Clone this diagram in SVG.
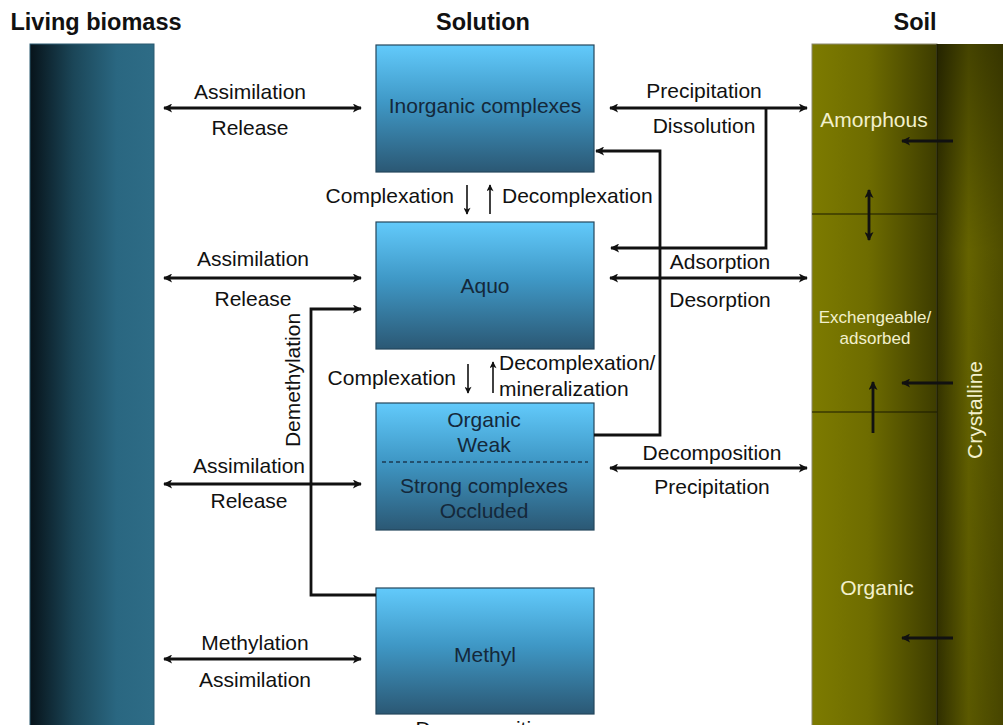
<svg xmlns="http://www.w3.org/2000/svg" width="1003" height="725" viewBox="0 0 1003 725">
<style>
text{font-family:"Liberation Sans",Arial,sans-serif;}
.title{font-size:23.5px;font-weight:bold;fill:#111;text-anchor:middle;}
.lbl{font-size:21px;fill:#111;text-anchor:middle;}
.box{font-size:21px;fill:#14283a;text-anchor:middle;}
.soilt{font-size:21px;fill:#f2f0cc;text-anchor:middle;}
.line{fill:none;stroke:#111;stroke-width:2.8;}
.thin{fill:none;stroke:#111;stroke-width:1.6;}
.sbox{stroke:#24465c;stroke-width:1.2;fill:url(#gBox);}
</style>
<defs>
<linearGradient id="gBio" x1="0" y1="0" x2="1" y2="0">
<stop offset="0" stop-color="#07131a"/>
<stop offset="0.35" stop-color="#1b4658"/>
<stop offset="0.7" stop-color="#2a6781"/>
<stop offset="1" stop-color="#2e6c86"/>
</linearGradient>
<linearGradient id="gBox" x1="0" y1="0" x2="0" y2="1">
<stop offset="0" stop-color="#62cafb"/>
<stop offset="0.45" stop-color="#3f98c6"/>
<stop offset="1" stop-color="#2b5874"/>
</linearGradient>
<linearGradient id="gSoilL" x1="0" y1="0" x2="1" y2="0">
<stop offset="0" stop-color="#7d7b00"/>
<stop offset="0.45" stop-color="#6e6c00"/>
<stop offset="1" stop-color="#3d3c00"/>
</linearGradient>
<linearGradient id="gSoilR" x1="0" y1="0" x2="1" y2="0">
<stop offset="0" stop-color="#383700"/>
<stop offset="0.45" stop-color="#6a6800"/>
<stop offset="1" stop-color="#504e00"/>
</linearGradient>
<linearGradient id="gShade" x1="0" y1="0" x2="0" y2="1">
<stop offset="0" stop-color="#000" stop-opacity="0.35"/>
<stop offset="0.3" stop-color="#000" stop-opacity="0.05"/>
<stop offset="1" stop-color="#000" stop-opacity="0.15"/>
</linearGradient>
<marker id="ah" viewBox="0 0 10 10" refX="9" refY="5" markerWidth="11" markerHeight="9" markerUnits="userSpaceOnUse" orient="auto-start-reverse">
<path d="M0,0 L10,5 L0,10 L2.5,5 z" fill="#111"/>
</marker>
<marker id="ahs" viewBox="0 0 10 10" refX="9" refY="5" markerWidth="8" markerHeight="7" markerUnits="userSpaceOnUse" orient="auto-start-reverse">
<path d="M0,0 L10,5 L0,10 L2.5,5 z" fill="#111"/>
</marker>
</defs>

<g id="titles">
<text class="title" x="96" y="30">Living biomass</text>
<text class="title" x="483" y="30">Solution</text>
<text class="title" x="915" y="30">Soil</text>
</g>

<g id="living-biomass">
<rect x="30" y="44" width="124" height="690" fill="url(#gBio)" stroke="#2a5a70" stroke-width="1"/>
</g>

<g id="soil">
<rect x="812" y="44" width="125" height="690" fill="url(#gSoilL)" stroke="#8c8a70" stroke-width="1"/>
<rect x="937" y="44" width="70" height="690" fill="url(#gSoilR)"/>
<rect x="937" y="44" width="70" height="690" fill="url(#gShade)"/>
<line x1="937" y1="44" x2="937" y2="725" stroke="#1a1a00" stroke-width="1.2"/>
<line x1="812" y1="214" x2="937" y2="214" stroke="#1a1a00" stroke-width="1.2"/>
<line x1="812" y1="412" x2="937" y2="412" stroke="#1a1a00" stroke-width="1.2"/>
</g>
<g id="soil-amorphous"><text class="soilt" x="874" y="127">Amorphous</text></g>
<g id="soil-exchangeable"><text class="soilt" style="font-size:17px" x="875" y="323">Exchengeable/</text><text class="soilt" style="font-size:17px" x="875" y="344">adsorbed</text></g>
<g id="soil-organic"><text class="soilt" x="877" y="595">Organic</text></g>
<g id="soil-crystalline"><text class="soilt" transform="translate(982,410) rotate(-90)" x="0" y="0">Crystalline</text></g>

<g id="inorganic-complexes">
<rect class="sbox" x="376" y="45" width="218" height="127"/>
<text class="box" x="485" y="113">Inorganic complexes</text>
</g>
<g id="aquo">
<rect class="sbox" x="376" y="222" width="218" height="127"/>
<text class="box" x="485" y="293">Aquo</text>
</g>
<g id="organic">
<rect class="sbox" x="376" y="403" width="218" height="127"/>
<text class="box" x="484" y="427">Organic</text>
<text class="box" x="484" y="452">Weak</text>
<line x1="382" y1="462" x2="588" y2="462" stroke="#1d3a52" stroke-width="1.4" stroke-dasharray="4,3"/>
<text class="box" x="484" y="493">Strong complexes</text>
<text class="box" x="484" y="518">Occluded</text>
</g>
<g id="methyl">
<rect class="sbox" x="376" y="588" width="218" height="126"/>
<text class="box" x="485" y="662">Methyl</text>
</g>

<g id="connectors">
<line class="line" x1="164" y1="108" x2="361" y2="108" marker-start="url(#ah)" marker-end="url(#ah)"/>
<line class="line" x1="164" y1="278" x2="361" y2="278" marker-start="url(#ah)" marker-end="url(#ah)"/>
<line class="line" x1="164" y1="484" x2="361" y2="484" marker-start="url(#ah)" marker-end="url(#ah)"/>
<line class="line" x1="164" y1="659" x2="361" y2="659" marker-start="url(#ah)" marker-end="url(#ah)"/>

<line class="line" x1="610" y1="108" x2="807" y2="108" marker-start="url(#ah)" marker-end="url(#ah)"/>
<path class="line" d="M766,108 V248 H611" marker-end="url(#ah)"/>
<line class="line" x1="610" y1="278" x2="807" y2="278" marker-start="url(#ah)" marker-end="url(#ah)"/>
<line class="line" x1="610" y1="468" x2="807" y2="468" marker-start="url(#ah)" marker-end="url(#ah)"/>
<path class="line" d="M594,435 H660 V151 H596" marker-end="url(#ah)"/>
<path class="line" d="M376,595 H311 V309 H361" marker-end="url(#ah)"/>

<line class="thin" x1="467" y1="185" x2="467" y2="214" marker-end="url(#ahs)"/>
<line class="thin" x1="490" y1="214" x2="490" y2="185" marker-end="url(#ahs)"/>
<line class="thin" x1="468" y1="364" x2="468" y2="393" marker-end="url(#ahs)"/>
<line class="thin" x1="493" y1="393" x2="493" y2="362" marker-end="url(#ahs)"/>

<line class="line" x1="869" y1="190" x2="869" y2="240" marker-start="url(#ah)" marker-end="url(#ah)"/>
<line class="line" x1="873" y1="433" x2="873" y2="382" marker-end="url(#ah)"/>
<line class="line" x1="953" y1="141" x2="902" y2="141" marker-end="url(#ah)"/>
<line class="line" x1="953" y1="383" x2="902" y2="383" marker-end="url(#ah)"/>
<line class="line" x1="953" y1="638" x2="902" y2="638" marker-end="url(#ah)"/>
</g>

<g id="labels">
<text class="lbl" x="250" y="99">Assimilation</text>
<text class="lbl" x="250" y="135">Release</text>
<text class="lbl" x="253" y="266">Assimilation</text>
<text class="lbl" x="253" y="306">Release</text>
<text class="lbl" x="249" y="473">Assimilation</text>
<text class="lbl" x="249" y="508">Release</text>
<text class="lbl" x="255" y="650">Methylation</text>
<text class="lbl" x="255" y="687">Assimilation</text>
<text class="lbl" transform="translate(300,380) rotate(-90)" x="0" y="0">Demethylation</text>

<text class="lbl" x="704" y="98">Precipitation</text>
<text class="lbl" x="704" y="133">Dissolution</text>
<text class="lbl" x="720" y="269">Adsorption</text>
<text class="lbl" x="720" y="307">Desorption</text>
<text class="lbl" x="712" y="460">Decomposition</text>
<text class="lbl" x="712" y="494">Precipitation</text>

<text class="lbl" style="text-anchor:end" x="454" y="203">Complexation</text>
<text class="lbl" style="text-anchor:start" x="502" y="203">Decomplexation</text>
<text class="lbl" style="text-anchor:end" x="456" y="385">Complexation</text>
<text class="lbl" style="text-anchor:start" x="499" y="370">Decomplexation/</text>
<text class="lbl" style="text-anchor:start" x="499" y="396">mineralization</text>
<text class="lbl" x="485" y="736">Decomposition</text>
</g>
</svg>
